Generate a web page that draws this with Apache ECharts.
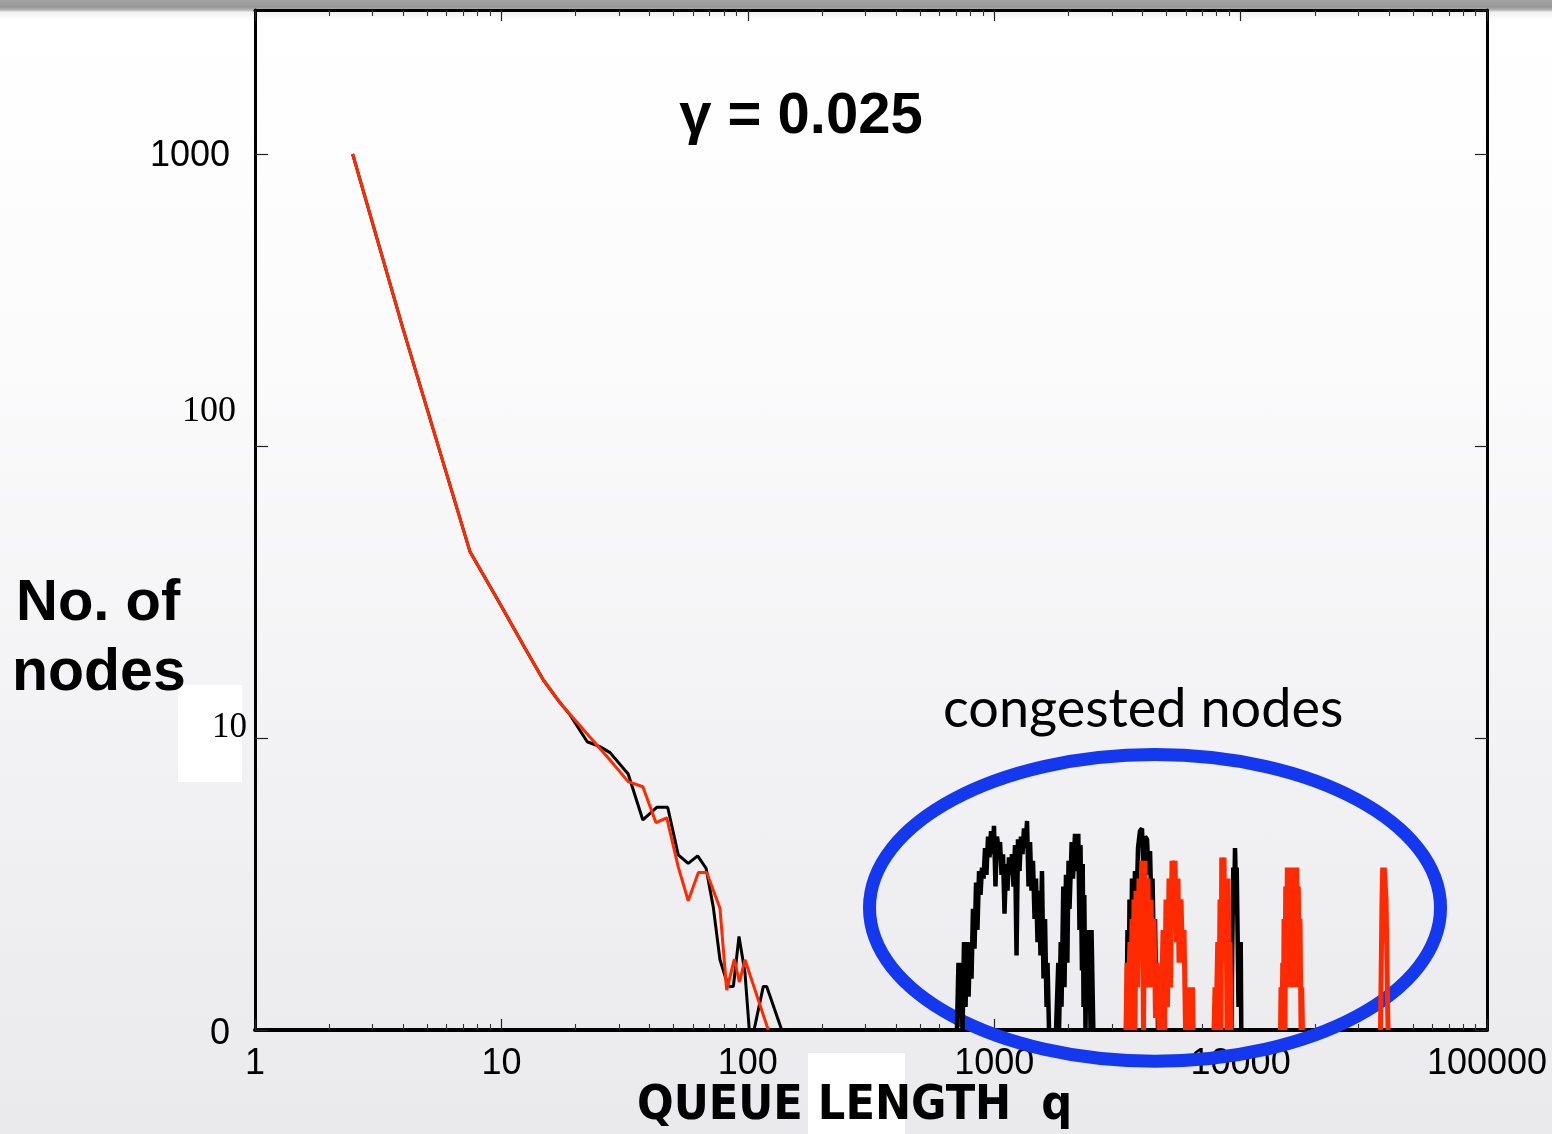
<!DOCTYPE html>
<html><head><meta charset="utf-8">
<script src="https://cdn.jsdelivr.net/npm/echarts@6/dist/echarts.min.js"></script>
<style>
html,body{margin:0;padding:0;width:1552px;height:1134px;overflow:hidden;}
body{background:linear-gradient(to bottom,#a3a3a3 0px,#979797 7px,#b5b5b5 10px,#f0f0f0 12px,#ffffff 20px,#fbfbfc 350px,#f2f2f4 750px,#eaeaed 1134px);}
#c{width:1552px;height:1134px;}
</style></head><body><div id="c"></div>
<script>
// ---- tick labels ----
const xTickLabels = ['1','10','100','1000','10000','100000'];
const yTickLabels = {1:'0',10:'10',100:'100',1000:'1000'};

// ---- main distributions [q, nodes] ----
const blackMain = [[2.49,1000],[4,250],[7.46,43.4],[9.87,28.8],[12.47,20.3],[14.8,15.8],[17.3,13.2],[19.0,12.0],[22.3,9.71],[25.1,9.34],[27.6,8.91],[32.7,7.53],[37.5,5.24],[42.7,5.79],[47.3,5.79],[52.2,3.98],[57.3,3.72],[62.6,3.95],[67.7,3.58],[72.4,2.64],[77.1,1.74],[83.4,1.41],[87.4,1.41],[92.1,2.09],[97.4,1.57],[101.4,1],[106,1],[115.6,1.41],[119.3,1.41],[137.3,1]];
const redMain = [[2.49,1000],[4,250],[7.46,43.4],[9.87,28.8],[12.47,20.3],[14.8,15.8],[17.6,12.97],[24.4,9.46],[27.2,8.52],[32.7,7.09],[37.5,6.81],[42.4,5.13],[46.9,5.33],[52.2,3.62],[57.3,2.77],[63.0,3.46],[68.1,3.46],[77.1,2.61],[82.1,1.37],[88.2,1.75],[92.4,1.46],[97.4,1.74],[121.1,1]];

// ---- congested nodes (black) ----
const blackCong1 = [[706,1],[716,1.7],[723,1.1],[733,1.7],[744,1],[754,2.0],[765,1.2],[776,2.0],[787,1.3],[798,2.0],[809,1.5],[820,2.6],[832,1.9],[844,3.2],[855,2.2],[868,3.5],[880,2.9],[892,3.6],[905,3.3],[918,4.2],[930,3.4],[944,4.6],[957,3.9],[971,4.8],[984,4.0],[998,5.0],[1012,3.1],[1026,4.6],[1041,4.2],[1056,4.4],[1071,3.4],[1086,4.0],[1101,2.5],[1117,3.7],[1132,3.0],[1148,3.9],[1165,3.4],[1181,4.0],[1198,3.1],[1215,4.3],[1232,1.8],[1249,4.5],[1267,3.5],[1284,4.6],[1303,4.0],[1321,4.9],[1340,4.2],[1359,5.2],[1378,3.1],[1398,4.4],[1417,3.0],[1437,3.8],[1458,2.4],[1478,3.3],[1499,2.0],[1520,3.0],[1541,1.8],[1563,3.5],[1585,1.5],[1608,2.4],[1631,1.2],[1646,1.7],[1669,1]];
const blackCong2 = [[1782,1],[1820,1.7],[1833,1],[1862,2.0],[1876,1.2],[1907,3.1],[1929,1.4],[1956,3.4],[1981,1.7],[2003,3.8],[2021,2.6],[2063,4.4],[2088,3.3],[2128,4.7],[2158,3.5],[2194,4.7],[2219,2.2],[2240,4.3],[2271,1.6],[2287,3.7],[2304,1.2],[2321,2.9],[2347,1],[2373,2.2],[2402,1.3],[2432,2.2],[2460,1],[2483,2.2],[2511,2.2],[2525,1]];
const blackCong3 = [[3442,1],[3475,2.2],[3509,1],[3541,2.8],[3591,1.5],[3625,3.3],[3675,2.0],[3727,3.5],[3780,2.6],[3834,4.2],[3905,4.8],[3979,4.9],[4035,3.5],[4093,4.6],[4171,4.5],[4229,3.4],[4290,4.1],[4348,2.5],[4391,3.3],[4452,1.7],[4494,2.4],[4537,1.4],[4578,1.7],[4622,1]];
const blackCong4 = [[9185,1],[9254,2.0],[9341,3.6],[9402,2.5],[9491,4.2],[9580,3.0],[9643,3.6],[9733,2.0],[9806,1.2],[9879,2.0],[9945,1.4],[10010,2.0],[10065,1]];

// ---- congested nodes (red) ----
const redCongA = [[3426,1],[3459,1.7],[3509,1.4],[3557,2.0],[3591,1],[3625,2.4],[3658,1.2],[3693,2.8],[3727,1.0],[3762,3.0],[3815,1.4],[3869,3.3],[3925,2.8],[3979,3.8],[4035,1.0],[4093,3.8],[4132,1.4],[4210,3.3],[4269,1.4],[4330,2.8],[4391,1.4],[4452,2.4],[4515,1.1],[4578,1.7],[4665,1],[4710,1.4],[4753,1],[4843,2.2],[4912,1],[4980,2.8],[5051,1.2],[5122,3.3],[5194,1.4],[5268,3.8],[5343,2.8],[5418,3.8],[5494,2.0],[5571,3.3],[5623,1.7],[5731,2.8],[5812,1.7],[5894,2.2],[5976,1],[6061,1.4],[6146,1],[6231,1.4],[6320,1],[6379,1.4],[6409,1]];
const redCongB = [[7799,1],[7873,1.4],[7947,1],[8075,2.0],[8157,1],[8250,2.8],[8328,1],[8382,3.9],[8485,2.2],[8564,3.9],[8645,1.7],[8726,3.3],[8807,1],[8890,3.3],[8976,1.4],[9057,2.0],[9141,1]];
const redCongC = [[14520,1],[14588,1.4],[14723,1],[14822,1.7],[14928,1],[15001,2.4],[15142,1],[15241,3.1],[15356,1.4],[15471,3.6],[15615,1.4],[15764,3.6],[15898,1.4],[16092,2.4],[16271,1.4],[16516,3.6],[16673,1.4],[16893,3.6],[17018,1.4],[17148,3.1],[17290,1.4],[17422,2.4],[17587,1],[17701,1.4],[17833,1]];
const redCongD = [[36960,1],[37140,1.4],[37490,2.8],[37730,3.6],[38020,2.0],[38300,3.6],[38550,3.6],[38916,2.8],[39170,2.0],[39390,1.4],[39650,1]];

// ---- annotation ring anchor (data space) ----
const ringCenter = [4494, 2.62];
const ringLeftQ = 311.8;
const ringTopN = 8.78;

const joinClusters = (arr) => { const out = []; arr.forEach((c,i)=>{ if(i) out.push([null,null]); out.push(...c); }); return out; };

const chart = echarts.init(document.getElementById('c'));
const BLACK = '#000000', RED = '#ff2a00';

function logX(pos, labels){
  return {
    type:'log', logBase:10, min:1, max:100000, position:pos,
    axisLine:{show:true,onZero:false,lineStyle:{color:'#000',width:pos==='bottom'?4:3}},
    axisTick:{show:true,inside:true,length:11,lineStyle:{color:'#222',width:1.2}},
    minorTick:{show:true,splitNumber:9,length:6,lineStyle:{color:'#333',width:1.1}},
    splitLine:{show:false}, minorSplitLine:{show:false},
    axisLabel: labels ? {
      show:true, margin:16, color:'#000', fontFamily:'Liberation Sans, Arial, sans-serif', fontSize:36,
      formatter:(v)=>{ const k=Math.round(Math.log10(v)); return Math.abs(Math.log10(v)-k)<1e-6 ? (xTickLabels[k]||'') : ''; }
    } : {show:false}
  };
}
function logY(pos, labels){
  return {
    type:'log', logBase:10, min:1, max:3113, position:pos,
    axisLine:{show:true,onZero:false,lineStyle:{color:'#000',width:3}},
    axisTick:{show:true,inside:true,length:pos==='left'?13:12,lineStyle:{color:'#222',width:1.2}},
    minorTick:{show:false}, splitLine:{show:false},
    axisLabel: labels ? {
      show:true, margin:8, color:'#000', showMaxLabel:false,
      formatter:(v)=>{ const r=Math.round(v); const t=yTickLabels[r]; if(t===undefined||Math.abs(v-r)>1e-6) return ''; return '{s'+r+'|'+t+'}'; },
      rich:{
        s1:{fontFamily:'Liberation Sans, Arial, sans-serif',fontSize:36,padding:[8,17,0,0],color:'#000'},
        s10:{fontFamily:'Liberation Serif, Times New Roman, serif',fontSize:35,padding:[0,0,20,0],color:'#000'},
        s100:{fontFamily:'Liberation Serif, Times New Roman, serif',fontSize:36,padding:[0,11,69,0],color:'#000'},
        s1000:{fontFamily:'Liberation Sans, Arial, sans-serif',fontSize:36,padding:[4,17,0,0],color:'#000'}
      }
    } : {show:false}
  };
}

const lineSeries = (name,data,color,width,z) => ({
  name, type:'line', data, xAxisIndex:0, yAxisIndex:0, showSymbol:false, symbol:'none',
  connectNulls:false, lineStyle:{color,width,join:'bevel'}, z, silent:true
});

chart.setOption({
  animation:false,
  grid:{left:255,right:65,top:10,bottom:104,containLabel:false},
  xAxis:[logX('bottom',true), logX('top',false)],
  yAxis:[logY('left',true), logY('right',false)],
  series:[
    lineSeries('black',blackMain,BLACK,3,3),
    lineSeries('red',redMain,RED,3,4),
    lineSeries('black congested',joinClusters([blackCong1,blackCong2,blackCong3,blackCong4]),BLACK,4.5,5),
    lineSeries('red congested',joinClusters([redCongA,redCongB,redCongC,redCongD]),RED,5,6)
  ]
});

const c = chart.convertToPixel({xAxisIndex:0,yAxisIndex:0}, ringCenter);
const l = chart.convertToPixel({xAxisIndex:0,yAxisIndex:0}, [ringLeftQ, ringCenter[1]]);
const t = chart.convertToPixel({xAxisIndex:0,yAxisIndex:0}, [ringCenter[0], ringTopN]);

chart.setOption({
  graphic:[
    {type:'rect',z:-1,shape:{x:178,y:685,width:64,height:97},style:{fill:'#ffffff'},silent:true},
    {type:'rect',z:-1,shape:{x:808,y:1053,width:97,height:81},style:{fill:'#ffffff'},silent:true},
    {type:'ellipse',z:1,shape:{cx:c[0],cy:c[1],rx:c[0]-l[0],ry:c[1]-t[1]},style:{fill:'none',stroke:'#1438f0',lineWidth:13},silent:true},
    {type:'text',z:10,x:801,y:117,style:{text:'γ = 0.025',font:'bold 58px "Liberation Sans", Arial, sans-serif',fill:'#000',textAlign:'center',textVerticalAlign:'middle'}},
    {type:'text',z:10,x:16,y:604,style:{text:'No. of',font:'bold 58px "Liberation Sans", Arial, sans-serif',fill:'#000',textAlign:'left',textVerticalAlign:'middle'}},
    {type:'text',z:10,x:12,y:674,style:{text:'nodes',font:'bold 59px "Liberation Sans", Arial, sans-serif',fill:'#000',textAlign:'left',textVerticalAlign:'middle'}},
    {type:'text',z:10,x:943,y:710,style:{text:'congested nodes',font:'54px Lato, "Open Sans", sans-serif',fill:'#000',textAlign:'left',textVerticalAlign:'middle'}},
    {type:'text',z:10,x:637,y:1107,style:{text:'QUEUE LENGTH  q',font:'bold 48px "DejaVu Sans Condensed", Arial, sans-serif',fill:'#000',textAlign:'left',textVerticalAlign:'middle'}}
  ]
});
</script>
</body></html>
